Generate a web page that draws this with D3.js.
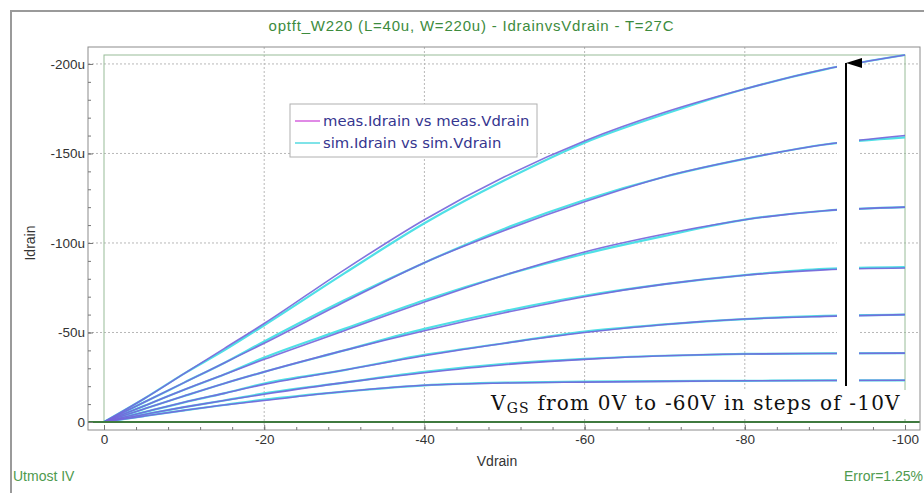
<!DOCTYPE html>
<html>
<head>
<meta charset="utf-8">
<script src="https://cdn.jsdelivr.net/npm/d3@7"></script>
<style>
  body { margin: 0; background: #fff; }
  svg { display: block; font-family: "Liberation Sans", Arial, sans-serif; }
</style>
</head>
<body>
<div id="chart"></div>
<script>
// Vdrain sample points (V)
const vdrain = [0, -5, -10, -15, -20, -30, -40, -50, -60, -70, -80, -90, -100];

// measured |Idrain| in uA, one row per Vgs step (top curve = -60V)
const measIdrain = [
  [0, 13, 27, 41, 55, 85, 113, 137, 157, 173, 186, 197, 205],
  [0, 11, 22, 33, 44, 67, 89, 107, 123, 137, 147, 155, 160],
  [0, 9, 18, 26.5, 35, 51, 67, 82, 95, 105, 113, 118, 120],
  [0, 7.3, 14.5, 21.5, 28, 40, 51, 61, 70, 77, 82, 85, 86],
  [0, 5.5, 11, 16, 21, 29, 37, 44, 50, 54.5, 57.5, 59, 60],
  [0, 4.2, 8.3, 12, 15.5, 22, 27.5, 32, 35, 37, 38, 38.3, 38.5],
  [0, 3.3, 6.5, 9.5, 12, 17, 20.5, 21.8, 22.3, 22.7, 23, 23.2, 23.3]
];

// simulated |Idrain| in uA
const simIdrain = [
  [0, 13, 27, 40, 54, 83, 111, 135, 156, 172, 186, 197, 205],
  [0, 11, 22, 33, 45, 68, 89, 108, 124, 137, 147, 155, 159],
  [0, 9, 18, 26.5, 36, 52, 68, 82, 94, 104, 113, 118, 120],
  [0, 7.3, 14.5, 21.5, 28, 40, 52, 62, 70.5, 77, 82, 85.5, 86.5],
  [0, 5.5, 11, 16, 21.5, 29, 37.5, 44, 50.5, 54.5, 57.5, 59.3, 60],
  [0, 4.2, 8.3, 12, 16, 22, 28, 32.5, 35.3, 37, 38, 38.3, 38.5],
  [0, 3.3, 6.5, 9.5, 12.5, 17, 20.5, 22, 22.5, 22.8, 23, 23.2, 23.3]
];

const yMajor = [0, 50, 100, 150, 200];
const xMajor = [0, -20, -40, -60, -80, -100];

const width = 924, height = 493;
const svg = d3.select("#chart").append("svg")
  .attr("width", width).attr("height", height);

// outer panel
svg.append("rect").attr("x", 11).attr("y", 11)
  .attr("width", 930).attr("height", 500)
  .attr("fill", "#fff").attr("stroke", "#9a9a9a").attr("stroke-width", 2);

const x = d3.scaleLinear().domain([0, -100]).range([104, 905]);
const y = d3.scaleLinear().domain([0, 205]).range([422, 55]);

const box = { left: 88, right: 920, top: 47, bottom: 430 };

svg.append("text")
  .attr("x", 471).attr("y", 31)
  .attr("text-anchor", "middle")
  .attr("fill", "#3d8b3d")
  .attr("font-size", 15)
  .attr("textLength", 405)
  .text("optft_W220 (L=40u, W=220u) - IdrainvsVdrain - T=27C");

// grid
const grid = svg.append("g");
grid.selectAll("line.h").data(yMajor.filter(d => d > 0)).enter()
  .append("line")
  .attr("x1", box.left).attr("x2", box.right)
  .attr("y1", d => y(d)).attr("y2", d => y(d))
  .attr("stroke", "#b8b8b8").attr("stroke-dasharray", "2,2");
grid.selectAll("line.v").data(xMajor.filter(d => d < 0 && d > -100)).enter()
  .append("line")
  .attr("y1", box.top).attr("y2", box.bottom)
  .attr("x1", d => x(d)).attr("x2", d => x(d))
  .attr("stroke", "#b8b8b8").attr("stroke-dasharray", "2,2");

// inner data frame
svg.append("rect")
  .attr("x", x(0)).attr("y", y(205))
  .attr("width", x(-100) - x(0)).attr("height", y(0) - y(205))
  .attr("fill", "none").attr("stroke", "#98bc98").attr("stroke-width", 1);

// curves
const line = d3.line()
  .x((d, i) => x(vdrain[i]))
  .y(d => y(d))
  .curve(d3.curveMonotoneX);

svg.append("g").selectAll("path").data(simIdrain).enter()
  .append("path")
  .attr("d", line)
  .attr("fill", "none")
  .attr("stroke", "#4fe0e6")
  .attr("stroke-width", 2.2);

svg.append("g").selectAll("path").data(measIdrain).enter()
  .append("path")
  .attr("d", line)
  .attr("fill", "none")
  .attr("stroke", "#7464da")
  .attr("stroke-width", 1.6)
  .attr("stroke-opacity", 0.9);

// zero line
svg.append("line")
  .attr("x1", box.left).attr("x2", box.right)
  .attr("y1", y(0)).attr("y2", y(0))
  .attr("stroke", "#3f7a3f").attr("stroke-width", 2);

// plot box
svg.append("rect")
  .attr("x", box.left).attr("y", box.top)
  .attr("width", box.right - box.left).attr("height", box.bottom - box.top)
  .attr("fill", "none").attr("stroke", "#8c8c8c").attr("stroke-width", 1);

// y axis
const yAxis = d3.axisLeft(y)
  .tickValues(yMajor)
  .tickSizeInner(-5).tickSizeOuter(0).tickPadding(3)
  .tickFormat(d => d === 0 ? "0" : `-${d}u`);
svg.append("g").attr("transform", `translate(${box.left},0)`).call(yAxis);
const yMinor = d3.axisLeft(y)
  .tickValues(d3.range(0, 205, 10))
  .tickSizeInner(-3).tickSizeOuter(0).tickFormat("");
svg.append("g").attr("transform", `translate(${box.left},0)`).call(yMinor);

// x axis
const xAxis = d3.axisBottom(x)
  .tickValues(xMajor)
  .tickSizeInner(-5).tickSizeOuter(0).tickPadding(4)
  .tickFormat(d => String(d));
svg.append("g").attr("transform", `translate(0,${box.bottom})`).call(xAxis);
const xMinor = d3.axisBottom(x)
  .tickValues(d3.range(0, -101, -4))
  .tickSizeInner(-3).tickSizeOuter(0).tickFormat("");
svg.append("g").attr("transform", `translate(0,${box.bottom})`).call(xMinor);

svg.selectAll(".domain").remove();
svg.selectAll(".tick line").attr("stroke", "#777");
svg.selectAll(".tick text")
  .attr("font-family", "Liberation Sans, Arial, sans-serif")
  .attr("font-size", 13.5).attr("fill", "#333");

svg.append("text")
  .attr("x", 497).attr("y", 466)
  .attr("text-anchor", "middle")
  .attr("font-size", 14).attr("fill", "#333")
  .text("Vdrain");

svg.append("text")
  .attr("transform", "translate(35,243) rotate(-90)")
  .attr("text-anchor", "middle")
  .attr("font-size", 14).attr("fill", "#333")
  .text("Idrain");

// legend
const leg = svg.append("g");
leg.append("rect")
  .attr("x", 290).attr("y", 104).attr("width", 247).attr("height", 53)
  .attr("fill", "#fff").attr("stroke", "#b0b0b0");
const legItems = [
  { label: "meas.Idrain vs meas.Vdrain", color: "#e08ae6" },
  { label: "sim.Idrain vs sim.Vdrain", color: "#7fe3e8" }
];
legItems.forEach((d, i) => {
  const yy = 121 + i * 22;
  leg.append("line")
    .attr("x1", 295).attr("x2", 320).attr("y1", yy).attr("y2", yy)
    .attr("stroke", d.color).attr("stroke-width", 2);
  leg.append("text")
    .attr("x", 323).attr("y", yy + 5)
    .attr("font-family", "DejaVu Sans, sans-serif")
    .attr("font-size", 14.8)
    .attr("fill", "#35358f")
    .text(d.label);
});

// annotation: arrow and text
svg.append("rect")
  .attr("x", 837).attr("y", 57).attr("width", 22).attr("height", 360)
  .attr("fill", "#fff");
svg.append("rect")
  .attr("x", 488).attr("y", 390).attr("width", 418).attr("height", 29)
  .attr("fill", "#fff");

svg.append("defs").append("marker")
  .attr("id", "arrow")
  .attr("viewBox", "0 0 10 16")
  .attr("refX", 5).attr("refY", 0)
  .attr("markerWidth", 10).attr("markerHeight", 16)
  .attr("markerUnits", "userSpaceOnUse")
  .attr("orient", "auto-start-reverse")
  .append("path")
  .attr("d", "M0,16 L5,0 L10,16 Z")
  .attr("fill", "#000");

svg.append("line")
  .attr("x1", 846).attr("x2", 846)
  .attr("y1", 386).attr("y2", 63)
  .attr("stroke", "#000").attr("stroke-width", 2)
  .attr("marker-end", "url(#arrow)");

const ann = svg.append("text")
  .attr("x", 491).attr("y", 410)
  .attr("font-family", "DejaVu Serif, serif")
  .attr("font-size", 20)
  .attr("letter-spacing", 1.2)
  .attr("fill", "#111");
ann.append("tspan").text("V");
ann.append("tspan").attr("font-size", 14).attr("dy", 3).text("GS");
ann.append("tspan").attr("dy", -3).text(" from 0V to -60V  in steps of -10V");

// footer
svg.append("text")
  .attr("x", 13).attr("y", 481)
  .attr("font-size", 14).attr("fill", "#4e9a4e")
  .text("Utmost IV");
svg.append("text")
  .attr("x", 923).attr("y", 481)
  .attr("text-anchor", "end")
  .attr("font-size", 14).attr("fill", "#4e9a4e")
  .text("Error=1.25%");
</script>
</body>
</html>
